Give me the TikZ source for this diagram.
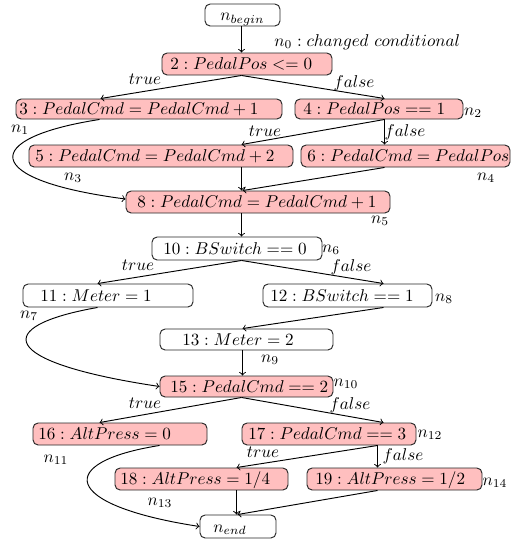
\documentclass[tikz,border=0pt]{standalone}
\usetikzlibrary{calc,fit}
\begin{document}
\begin{tikzpicture}[x=0.585pt, y=-0.585pt,
  boxw/.style={draw=black!85, line width=0.55pt, rounded corners=3pt, inner sep=0pt},
  boxp/.style={boxw, fill=red!25},
  txt/.style={anchor=west, inner sep=0pt, text height=6.5pt, text depth=0pt},
  lbl/.style={inner sep=0pt},
  edge/.style={->, line width=0.55pt}]
\useasboundingbox (0,0) rectangle (514,541);

% statement boxes
\node[boxw, fit={(205,4) (280,26)}] (nb) {};
\node[txt] (tnb) at (220,15) {$n_{begin}$};
\node[boxp, fit={(162,53) (332,75)}] (b2) {};
\node[txt] (t2) at (170,64) {$2 : PedalPos <= 0$};
\node[boxp, fit={(16,99) (282,119)}] (b3) {};
\node[txt] (t3) at (19,109) {$3 : PedalCmd = PedalCmd + 1$};
\node[boxp, fit={(295,99) (463,119)}] (b4) {};
\node[txt] (t4) at (303,109) {$4 : PedalPos == 1$};
\node[boxp, fit={(29,145) (293,167)}] (b5) {};
\node[txt] (t5) at (35,156) {$5 : PedalCmd = PedalCmd + 2$};
\node[boxp, fit={(301,145) (510,167)}] (b6) {};
\node[txt] (t6) at (307,156) {$6 : PedalCmd = PedalPos$};
\node[boxp, fit={(126,191) (390,213)}] (b8) {};
\node[txt] (t8) at (137,202) {$8 : PedalCmd = PedalCmd + 1$};
\node[boxw, fit={(152,237) (322,260)}] (b10) {};
\node[txt] (t10) at (163,248.5) {$10 : BSwitch == 0$};
\node[boxw, fit={(23,284) (193,307)}] (b11) {};
\node[txt] (t11) at (40,295.5) {$11 : Meter = 1$};
\node[boxw, fit={(263,284) (432,307)}] (b12) {};
\node[txt] (t12) at (270,295.5) {$12 : BSwitch == 1$};
\node[boxw, fit={(160,329) (333,350)}] (b13) {};
\node[txt] (t13) at (182,339.5) {$13 : Meter = 2$};
\node[boxp, fit={(160,376) (333,397)}] (b15) {};
\node[txt] (t15) at (170,386.5) {$15 : PedalCmd == 2$};
\node[boxp, fit={(33,423) (207,445)}] (b16) {};
\node[txt] (t16) at (38,434) {$16 : AltPress = 0$};
\node[boxp, fit={(242,423) (416,445)}] (b17) {};
\node[txt] (t17) at (248,434) {$17 : PedalCmd == 3$};
\node[boxp, fit={(115,468) (288,490)}] (b18) {};
\node[txt] (t18) at (120,479) {$18 : AltPress = 1/4$};
\node[boxp, fit={(307,468) (482,490)}] (b19) {};
\node[txt] (t19) at (315,479) {$19 : AltPress = 1/2$};
\node[boxw, fit={(200,515) (276,538)}] (be) {};
\node[txt] (tbe) at (213,526.5) {$n_{end}$};

% node names and branch labels
\node[lbl, anchor=west] (l0) at (274,42) {$n_0 : changed\ conditional$};
\node[lbl] (l1) at (20,130) {$n_1$};
\node[lbl] (l2) at (473,113) {$n_2$};
\node[lbl] (l3) at (73,178) {$n_3$};
\node[lbl] (l4) at (486,178) {$n_4$};
\node[lbl] (l5) at (380,221) {$n_5$};
\node[lbl] (l6) at (331,250) {$n_6$};
\node[lbl] (l7) at (29,316) {$n_7$};
\node[lbl] (l8) at (444,299) {$n_8$};
\node[lbl] (l9) at (270,360) {$n_9$};
\node[lbl] (l10) at (346,384) {$n_{10}$};
\node[lbl] (l11) at (56,460) {$n_{11}$};
\node[lbl] (l12) at (430,435) {$n_{12}$};
\node[lbl] (l13) at (160,503) {$n_{13}$};
\node[lbl] (l14) at (495,483) {$n_{14}$};

\node[lbl] (ta) at (145,79) {$true$};
\node[lbl] (fa) at (354,83) {$false$};
\node[lbl] (tb) at (265,131) {$true$};
\node[lbl] (fb) at (405,132) {$false$};
\node[lbl] (tc) at (138,265) {$true$};
\node[lbl] (fc) at (351,267) {$false$};
\node[lbl] (td) at (145,403) {$true$};
\node[lbl] (fd) at (350,405) {$false$};
\node[lbl] (te) at (263,452) {$true$};
\node[lbl] (fe) at (403,456) {$false$};

% control-flow edges
\draw[edge] ($(nb.south west)+(37,0)$) -- ($(b2.north west)+(80,0)$);
\draw[edge] ($(b2.south west)+(80,0)$) -- ($(b3.north west)+(85,0)$);
\draw[edge] ($(b2.south west)+(80,0)$) -- ($(b4.north west)+(90,0)$);
\draw[edge] ($(b3.south west)+(84,0)$) .. controls (-20,138) and (-20,180) .. ($(b8.west)+(0,-3)$);
\draw[edge] ($(b4.south west)+(90,0)$) -- ($(b5.north west)+(213,0)$);
\draw[edge] ($(b4.south west)+(90,0)$) -- ($(b6.north west)+(84,0)$);
\draw[edge] ($(b5.south west)+(213,0)$) -- ($(b8.north west)+(116,0)$);
\draw[edge] ($(b6.south west)+(84,0)$) -- ($(b8.north west)+(117,0)$);
\draw[edge] ($(b8.south west)+(116,0)$) -- ($(b10.north west)+(90,0)$);
\draw[edge] ($(b10.south west)+(90,0)$) -- ($(b11.north west)+(75,0)$);
\draw[edge] ($(b10.south west)+(90,0)$) -- ($(b12.north west)+(121,0)$);
\draw[edge] ($(b11.south west)+(75,0)$) .. controls (-8,326) and (-4,362) .. (b15.west);
\draw[edge] ($(b12.south west)+(121,0)$) -- ($(b13.north west)+(83,0)$);
\draw[edge] ($(b13.south west)+(83,0)$) -- ($(b15.north west)+(83,0)$);
\draw[edge] ($(b15.south west)+(82,0)$) -- ($(b16.north west)+(67,0)$);
\draw[edge] ($(b15.south west)+(82,0)$) -- ($(b17.north west)+(142,0)$);
\draw[edge] ($(b16.south west)+(127,0)$) .. controls (55,462) and (60,505) .. (be.west);
\draw[edge] ($(b17.south west)+(136,0)$) -- ($(b18.north west)+(122,0)$);
\draw[edge] ($(b17.south west)+(136,0)$) -- ($(b19.north west)+(71,0)$);
\draw[edge] ($(b18.south west)+(122,0)$) -- ($(be.north west)+(37,0)$);
\draw[edge] ($(b19.south west)+(71,0)$) -- ($(be.north west)+(38,0)$);
\end{tikzpicture}
\end{document}
